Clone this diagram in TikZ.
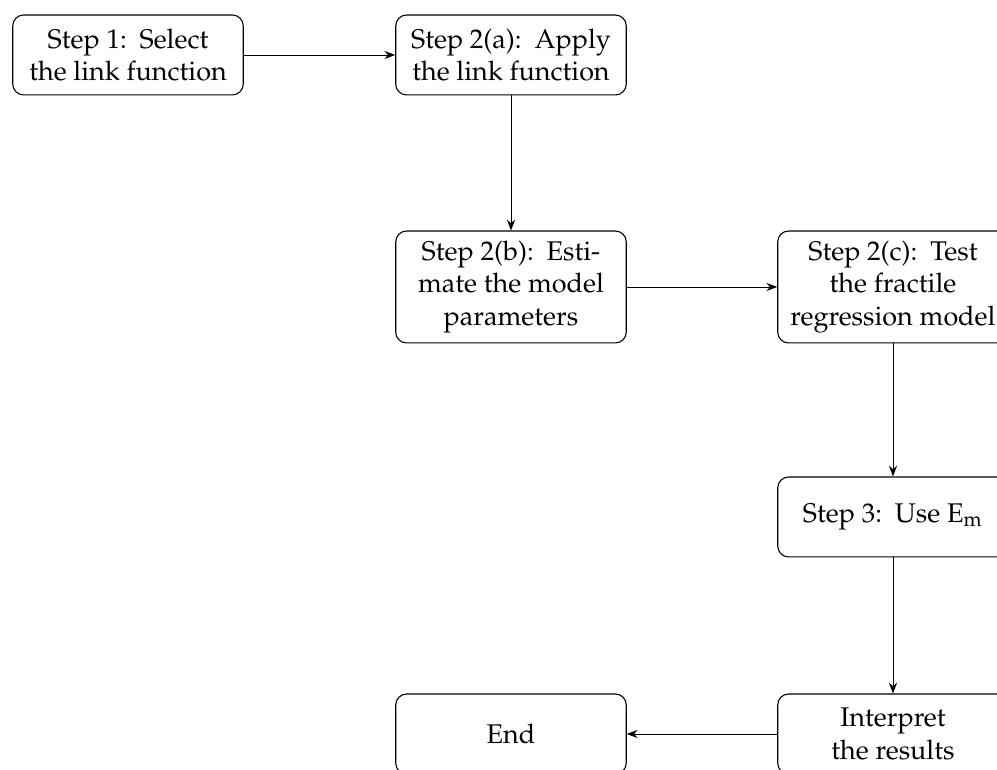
\documentclass[tikz,border=0pt]{standalone}
\usepackage[T1]{fontenc}
\usepackage{mathpazo}
\usetikzlibrary{arrows.meta}
\tikzset{
  stepbox/.style={draw, rounded corners=4pt, minimum width=3cm, minimum height=29.6pt, align=center, inner xsep=3.33pt, inner ysep=3.7pt},
  flow/.style={-{Stealth[length=4pt,width=3pt]}, line width=0.35pt}
}
\begin{document}
\begin{tikzpicture}[x=0.37037pt, y=-0.37037pt]
\clip (0,0) rectangle (997,770);
\node[stepbox] (s1) at (128,55) {Step 1:\, Select\\the link function};
\node[stepbox] (s2a) at (511,55) {Step 2(a):\, Apply\\the link function};
\node[stepbox] (s2b) at (511,287) {Step 2(b):\, Esti-\\mate the model\\parameters};
\node[stepbox] (s2c) at (893,287) {Step 2(c):\, Test\\the fractile\\regression model};
\node[stepbox] (s3) at (893,517) {Step 3:\, Use E$_{\mathrm{m}}$};
\node[stepbox] (int) at (893,734) {Interpret\\the results};
\node[stepbox] (end) at (511,734) {End};
\draw[flow] (s1) -- (s2a);
\draw[flow] (s2a) -- (s2b);
\draw[flow] (s2b) -- (s2c);
\draw[flow] (s2c) -- (s3);
\draw[flow] (s3) -- (int);
\draw[flow] (int) -- (end);
\end{tikzpicture}
\end{document}
